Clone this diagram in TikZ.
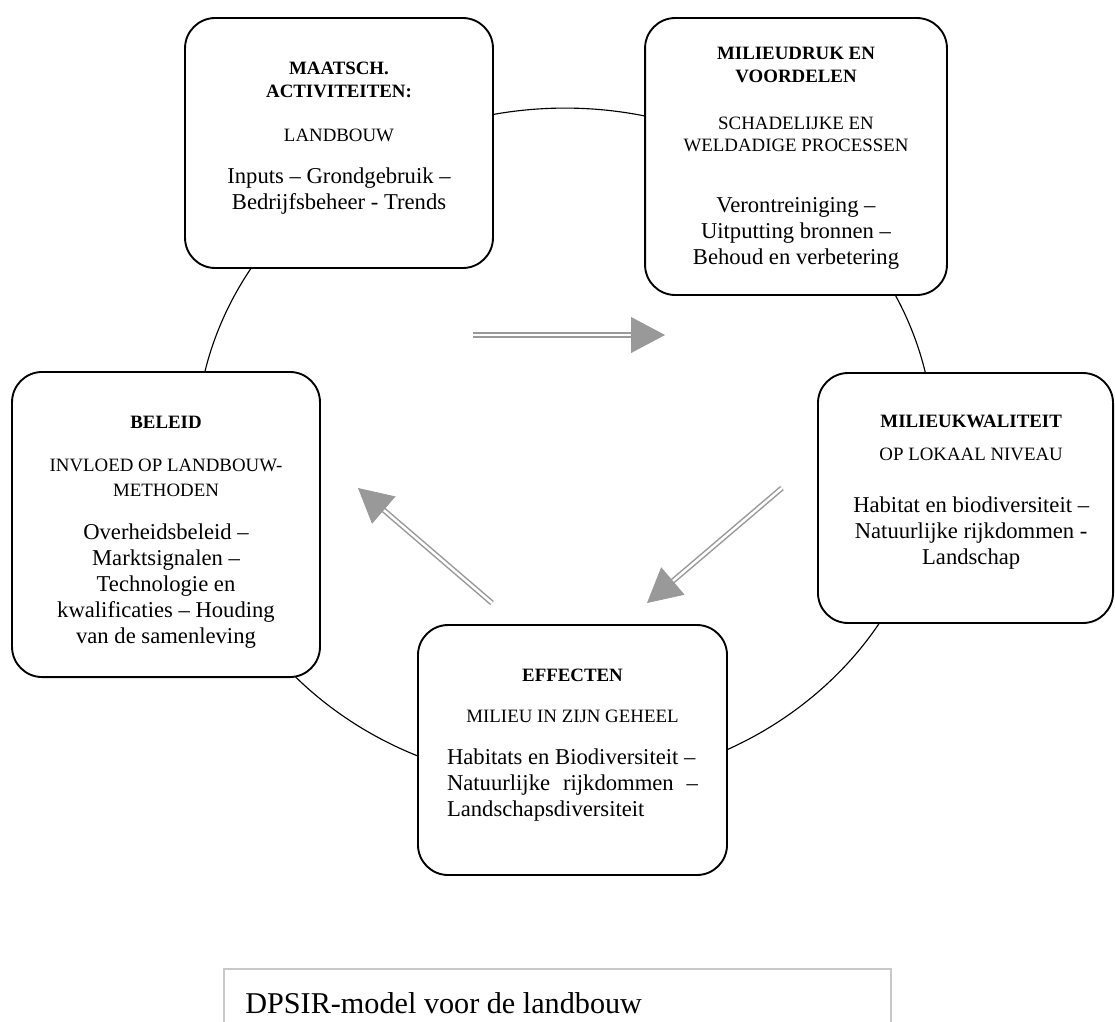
\documentclass[tikz,border=0pt]{standalone}
\usepackage{fontspec}
\setmainfont{Liberation Serif}
\usetikzlibrary{positioning,calc,arrows.meta}
\definecolor{pijlgrijs}{RGB}{153,153,153}
\definecolor{kadergrijs}{RGB}{200,200,200}
\newcommand{\kop}[1]{{\fontsize{10}{12}\selectfont\bfseries #1}}
\newcommand{\klein}[1]{{\fontsize{10}{12}\selectfont #1}}

\begin{document}
\begin{tikzpicture}[x=0.53pt,y=-0.53pt,
  blok/.style={draw, line width=1pt, rounded corners=16pt, fill=white, inner sep=0pt},
  tekst/.style={align=center, inner sep=0pt, font=\fontsize{12}{13.8}\selectfont},
  dubbel/.style={draw=pijlgrijs, double=white, line width=0.8pt, double distance=1.3pt, shorten >=15pt},
  punt/.style={draw=pijlgrijs, fill=pijlgrijs, line width=0.4pt, -{Triangle[length=18pt,width=19pt]}}]
\useasboundingbox (0,0) rectangle (1115,1021);
\draw[line width=0.6pt] (565,446) ellipse [x radius=195.6pt, y radius=179.1pt];

% vakken
\node[blok, minimum width=163.2pt, minimum height=132.5pt] (drijf) at (339,143) {};
\node[blok, minimum width=160pt, minimum height=146.8pt] (druk) at (796,156.5) {};
\node[blok, minimum width=156.4pt, minimum height=132.5pt] (staat) at (965.5,498) {};
\node[blok, minimum width=163.8pt, minimum height=132.5pt] (effect) at (572.5,750) {};
\node[blok, minimum width=163.2pt, minimum height=161.7pt] (beleid) at (166,524.5) {};

\node[tekst, below=23.6pt of drijf.north] (drijftekst) {\kop{MAATSCH.}\\[-1.6pt]\kop{ACTIVITEITEN:}\\[9.5pt]\klein{LANDBOUW}\\[8.5pt]Inputs – Grondgebruik –\\Bedrijfsbeheer - Trends};
\node[tekst, below=15.6pt of druk.north] (druktekst) {\kop{MILIEUDRUK EN}\\[-1.6pt]\kop{VOORDELEN}\\[11.1pt]\klein{SCHADELIJKE EN}\\[-2.1pt]\klein{WELDADIGE PROCESSEN}\\[18.5pt]Verontreiniging –\\Uitputting bronnen –\\Behoud en verbetering};
\node[tekst, below=22.5pt of staat.north, xshift=3pt] (staattekst) {\kop{MILIEUKWALITEIT}\\[3.7pt]\klein{OP LOKAAL NIVEAU}\\[13.8pt]Habitat en biodiversiteit –\\Natuurlijke rijkdommen -\\Landschap};
\node[tekst, below=23.6pt of effect.north] (effecttekst) {\kop{EFFECTEN}\\[7.9pt]\klein{MILIEU IN ZIJN GEHEEL}\\[8.5pt]\parbox[t]{133pt}{Habitats en Biodiversiteit –\\Natuurlijke\hfill rijkdommen\hfill –\\Landschapsdiversiteit}};
\node[tekst, below=23.6pt of beleid.north] (beleidtekst) {\kop{BELEID}\\[9pt]\klein{INVLOED OP LANDBOUW-}\\[-0.5pt]\klein{METHODEN}\\[9pt]Overheidsbeleid –\\Marktsignalen –\\Technologie en\\kwalificaties – Houding\\van de samenleving};

% pijlen
\coordinate (h1) at (473,335); \coordinate (h2) at (665,335);
\coordinate (r1) at (782,488); \coordinate (r2) at (647,603);
\coordinate (l1) at (492,603); \coordinate (l2) at (358,488);
\foreach \a/\b in {h1/h2,r1/r2,l1/l2} {
  \draw[dubbel] (\a) -- (\b);
  \draw[punt] ($(\b)!18pt!(\a)$) -- (\b);
}

% bijschrift
\node[draw=kadergrijs, line width=0.8pt, anchor=north west, minimum width=353.5pt, minimum height=40pt, inner sep=0pt] (kader) at (223,968) {};
\node[anchor=base west, inner sep=0pt, font=\fontsize{16}{19}\selectfont] (bijschrift) at (245,1013) {DPSIR-model voor de landbouw};
\end{tikzpicture}
\end{document}
